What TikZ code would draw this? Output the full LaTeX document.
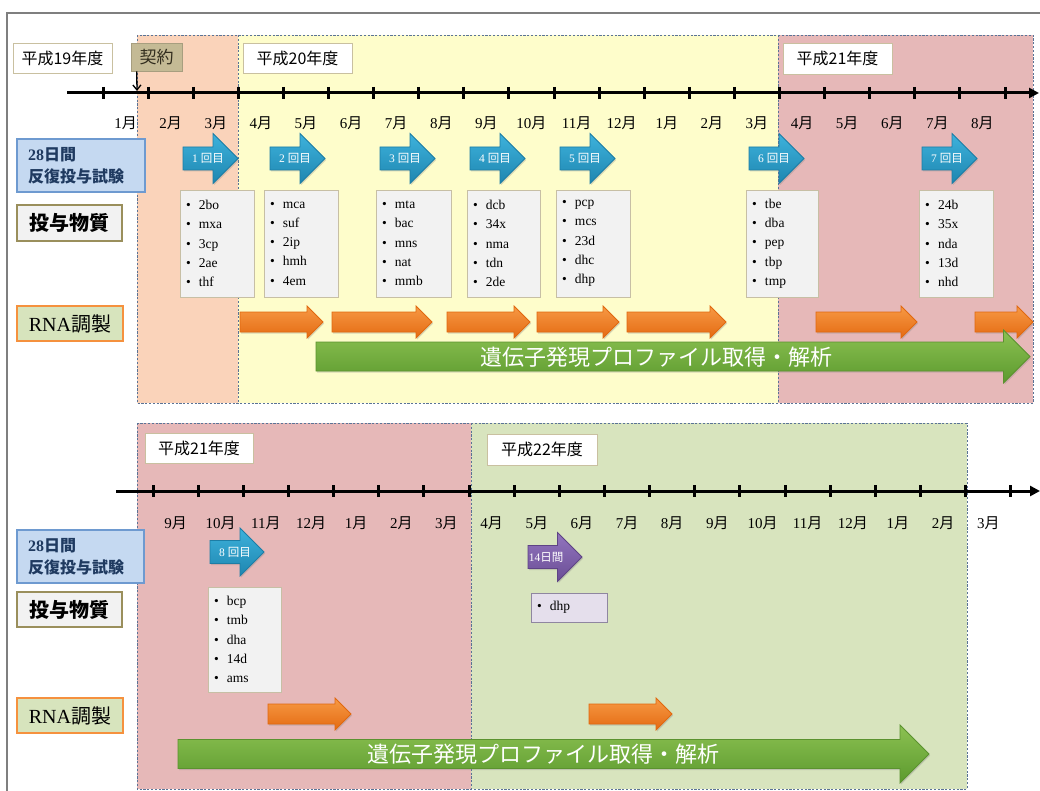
\documentclass[tikz,border=0pt]{standalone}
\usepackage{fontspec}
\setmainfont{Liberation Serif}
\newfontfamily\cjk{Noto Sans CJK JP}
\usetikzlibrary{arrows.meta,shadows}
\newcommand\J[1]{{\cjk #1}}
\newcommand\bitem[1]{\makebox[13pt][l]{\textbullet}#1}
\newcommand\hArw[6]{\path[#1] (#2,{#4-#5}) -- ({#3-#6},{#4-#5}) -- ({#3-#6},{#4-#6}) -- ({#3},#4) -- ({#3-#6},{#4+#6}) -- ({#3-#6},{#4+#5}) -- (#2,{#4+#5}) -- cycle;}
\definecolor{peach}{HTML}{FAD3BA}
\definecolor{yelr}{HTML}{FEFDCB}
\definecolor{pinkr}{HTML}{E6B8B8}
\definecolor{greenr}{HTML}{D8E4BE}
\definecolor{regb}{HTML}{5A7396}
\definecolor{tanb}{HTML}{C9C0A0}
\definecolor{keifill}{HTML}{C4BA95}
\definecolor{bluefill}{HTML}{C5D9F1}
\definecolor{blueb}{HTML}{6E9AD0}
\definecolor{navy}{HTML}{1F3A60}
\definecolor{grayfill}{HTML}{F2F2F2}
\definecolor{oliveb}{HTML}{9A8F5C}
\definecolor{subb}{HTML}{C7BFA5}
\definecolor{rnafill}{HTML}{D7E4BD}
\definecolor{rnab}{HTML}{F5913E}
\definecolor{dhpfill}{HTML}{E5DFEC}
\definecolor{dhpb}{HTML}{8F86A0}
\definecolor{frame}{HTML}{7F7F7F}
\begin{document}
\begin{tikzpicture}[x=1pt,y=-1pt,
  region/.style={draw=regb, line width=0.9pt, dash pattern=on 2.2pt off 1.6pt},
  yearbox/.style={draw=tanb, fill=white, line width=0.9pt, inner sep=0pt, font=\cjk\fontsize{16}{16}\selectfont},
  mon/.style={inner sep=0pt, font=\fontsize{15}{15}\selectfont},
  axis/.style={line width=3pt, -{Triangle[length=10pt,width=10pt]}},
  tick/.style={line width=3pt},
  lbl28/.style={draw=blueb, fill=bluefill, line width=1.2pt, align=left, inner xsep=11pt, inner ysep=0pt, text=navy, font=\bfseries\fontsize{16}{22}\selectfont},
  lbldose/.style={draw=oliveb, fill=grayfill, line width=1.2pt, inner sep=0pt, font=\cjk\bfseries\fontsize{20}{20}\selectfont},
  lblrna/.style={draw=rnab, fill=rnafill, line width=1.4pt, inner sep=0pt, font=\fontsize{20}{20}\selectfont},
  subbox/.style={draw=subb, fill=grayfill, line width=0.9pt, align=left, inner xsep=6pt, inner ysep=0pt, font=\fontsize{13.5}{19.3}\selectfont},
  ashadow/.style={drop shadow={opacity=0.3, shadow xshift=1pt, shadow yshift=-1.5pt}},
  bluearr/.style={ashadow, draw={rgb,255:red,29;green,125;blue,165}, line width=0.8pt, top color={rgb,255:red,62;green,178;blue,220}, bottom color={rgb,255:red,30;green,134;blue,176}},
  purarr/.style={ashadow, draw={rgb,255:red,94;green,67;blue,133}, line width=0.8pt, top color={rgb,255:red,146;green,117;blue,190}, bottom color={rgb,255:red,107;green,78;blue,150}},
  orarr/.style={ashadow, draw={rgb,255:red,224;green,104;blue,15}, line width=0.8pt, top color={rgb,255:red,247;green,154;blue,69}, bottom color={rgb,255:red,228;green,106;blue,18}},
  grarr/.style={ashadow, draw={rgb,255:red,91;green,146;blue,47}, line width=0.8pt, top color={rgb,255:red,140;green,193;blue,82}, bottom color={rgb,255:red,92;green,154;blue,46}},
  atext/.style={text=white, inner sep=0pt, font=\fontsize{11.5}{11.5}\selectfont},
  gtext/.style={text=white, inner sep=0pt, font=\cjk\fontsize{22}{22}\selectfont}
]
\useasboundingbox (0,0) rectangle (1040,791);
\fill[white] (0,0) rectangle (1040,791);
% outer frame
\draw[frame, line width=1.5pt] (7,791) -- (7,13) -- (1040,13);

% ---------------- top section ----------------
\fill[peach] (137,35) rectangle (238,403);
\fill[yelr] (238,35) rectangle (778,403);
\fill[pinkr] (778,35) rectangle (1033,403);
\draw[region] (137,35) rectangle (1033,403);
\draw[region] (238,35) -- (238,403);
\draw[region] (778,35) -- (778,403);

\node[yearbox, minimum width=99, minimum height=30] (y19) at (62.5,58) {平成19年度};
\node[yearbox, minimum width=109, minimum height=30] (y20) at (297.5,58) {平成20年度};
\node[yearbox, minimum width=109, minimum height=31] (y21a) at (837.5,58.5) {平成21年度};
\node[draw=keifill!85!black, fill=keifill, line width=0.6pt, minimum width=51, minimum height=28, inner sep=0pt, font=\cjk\fontsize{17}{17}\selectfont, text={rgb,255:red,50;green,45;blue,30}] (kei) at (156.5,57) {契約};

\coordinate (ax1s) at (67,93);
\coordinate (ax1e) at (1039,93);
\draw[axis] (ax1s) -- (ax1e);
\foreach \i in {0,...,20} {\draw[tick] ({103+45.1*\i},87) -- ({103+45.1*\i},99);}
\coordinate (keitip) at (137,91);
\draw[line width=1.3pt, -{Straight Barb[length=5pt,width=8pt]}] ([xshift=6pt]kei.south west) -- (keitip);

\foreach \m [count=\i from 0] in {1,2,3,4,5,6,7,8,9,10,11,12,1,2,3,4,5,6,7,8}
  {\node[mon] (mt\i) at ({103+45.1*(\i+0.5)},123) {\m\J{月}};}

% left labels
\node[lbl28, minimum width=128, minimum height=53, text width=106] (lt28) at (81,165.5) {28\J{日間}\\\J{反復投与試験}};
\node[lbldose, minimum width=105, minimum height=36] (ltdose) at (69.5,223) {投与物質};
\node[lblrna, minimum width=106, minimum height=35] (ltrna) at (70,323.5) {RNA\J{調製}};

% blue arrows
\foreach \xa/\n in {183/1,270/2,380/3,470/4,560/5,749/6,922/7} {
  \hArw{bluearr}{\xa}{\xa+55}{158.5}{11.5}{25}
  \node[atext] (r\n) at ({\xa+25},158.5) {\n\ \J{回目}};
}

% substance boxes
\node[subbox, minimum width=74, minimum height=107, text width=62] (s1) at (217,243.5) {\bitem{2bo}\\\bitem{mxa}\\\bitem{3cp}\\\bitem{2ae}\\\bitem{thf}};
\node[subbox, minimum width=74, minimum height=107, text width=62] (s2) at (301,243.5) {\bitem{mca}\\\bitem{suf}\\\bitem{2ip}\\\bitem{hmh}\\\bitem{4em}};
\node[subbox, minimum width=75, minimum height=107, text width=63] (s3) at (413.5,243.5) {\bitem{mta}\\\bitem{bac}\\\bitem{mns}\\\bitem{nat}\\\bitem{mmb}};
\node[subbox, minimum width=73, minimum height=107, text width=61] (s4) at (503.5,243.5) {\bitem{dcb}\\\bitem{34x}\\\bitem{nma}\\\bitem{tdn}\\\bitem{2de}};
\node[subbox, minimum width=74, minimum height=107, text width=62] (s5) at (593,243.5) {\bitem{pcp}\\\bitem{mcs}\\\bitem{23d}\\\bitem{dhc}\\\bitem{dhp}};
\node[subbox, minimum width=72, minimum height=107, text width=60] (s6) at (782,243.5) {\bitem{tbe}\\\bitem{dba}\\\bitem{pep}\\\bitem{tbp}\\\bitem{tmp}};
\node[subbox, minimum width=74, minimum height=107, text width=62] (s7) at (956,243.5) {\bitem{24b}\\\bitem{35x}\\\bitem{nda}\\\bitem{13d}\\\bitem{nhd}};

% orange arrows
\foreach \xa/\xb in {240/323,332/432,447/530,537/619,627/726,816/917,975/1033}
  {\hArw{orarr}{\xa}{\xb}{322}{10}{16}}

% green arrow
\hArw{grarr}{316}{1030}{356.5}{14.5}{26.5}
\node[gtext] (g1) at (656,357) {遺伝子発現プロファイル取得・解析};

% ---------------- bottom section ----------------
\fill[pinkr] (137,423) rectangle (471,789);
\fill[greenr] (471,423) rectangle (967,789);
\draw[region] (137,423) rectangle (967,789);
\draw[region] (471,423) -- (471,789);

\node[yearbox, minimum width=108, minimum height=30] (y21b) at (199,448) {平成21年度};
\node[yearbox, minimum width=110, minimum height=31] (y22) at (542,449.5) {平成22年度};

\coordinate (ax2s) at (116,491);
\coordinate (ax2e) at (1040,491);
\draw[axis] (ax2s) -- (ax2e);
\foreach \i in {0,...,19} {\draw[tick] ({153+45.15*\i},485) -- ({153+45.15*\i},497);}
\foreach \m [count=\i from 0] in {9,10,11,12,1,2,3,4,5,6,7,8,9,10,11,12,1,2,3}
  {\node[mon] (mb\i) at ({153+45.15*(\i+0.5)},523) {\m\J{月}};}

\node[lbl28, minimum width=127, minimum height=53, text width=105] (lb28) at (80.5,556.5) {28\J{日間}\\\J{反復投与試験}};
\node[lbldose, minimum width=105, minimum height=35] (lbdose) at (69.5,609.5) {投与物質};
\node[lblrna, minimum width=106, minimum height=35] (lbrna) at (70,715.5) {RNA\J{調製}};

\hArw{bluearr}{210}{264}{552}{11.5}{24}
\node[atext] (r8) at (235,552) {8\ \J{回目}};
\hArw{purarr}{528}{582}{557}{11.5}{24.5}
\node[atext] (p14) at (546,557) {14\J{日間}};

\node[subbox, minimum width=73, minimum height=105, text width=61] (s8) at (244.5,639.5) {\bitem{bcp}\\\bitem{tmb}\\\bitem{dha}\\\bitem{14d}\\\bitem{ams}};
\node[subbox, draw=dhpb, fill=dhpfill, minimum width=76, minimum height=29, text width=64] (s9) at (569,607.5) {\bitem{dhp}};

\hArw{orarr}{268}{351}{714}{10}{16}
\hArw{orarr}{589}{672}{714}{10}{16}

\hArw{grarr}{178}{929}{754}{14.5}{29}
\node[gtext] (g2) at (543,754) {遺伝子発現プロファイル取得・解析};
\end{tikzpicture}
\end{document}
